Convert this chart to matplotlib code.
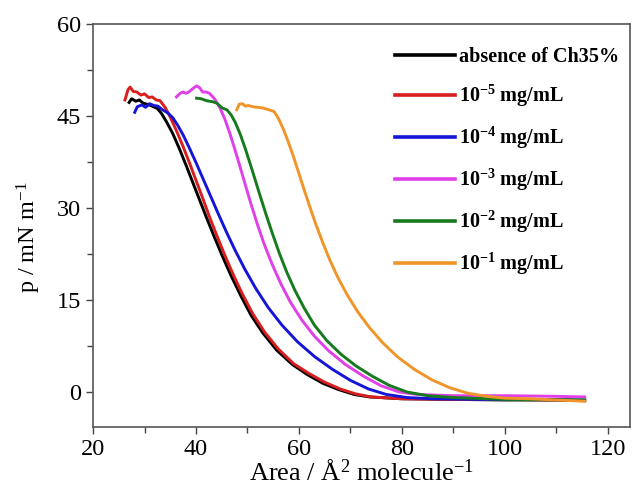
import matplotlib
matplotlib.use('Agg')
import matplotlib.pyplot as plt
from matplotlib.ticker import MultipleLocator

plt.rcParams['font.family'] = 'Liberation Serif'
plt.rcParams['mathtext.fontset'] = 'custom'
plt.rcParams['mathtext.rm'] = 'Liberation Serif'
plt.rcParams['mathtext.it'] = 'Liberation Serif:italic'
plt.rcParams['mathtext.bf'] = 'Liberation Serif:bold'

# surface pressure isotherms
area_black = [27.0, 27.5, 28.3, 29.0, 29.7, 30.5, 31.5, 32.5, 33.3, 34.3, 35.5, 36.8, 38.1,
              39.4, 40.7, 42.1, 43.6, 45.2, 46.9, 48.7, 50.7, 53.0, 55.7, 58.7, 61.7, 64.7,
              67.7, 70.7, 73.7, 80, 90, 100, 110, 115.5]
p_black = [47.2, 47.8, 47.4, 47.6, 47.1, 46.9, 46.6, 46.2, 45.4, 44.0, 42.1, 39.6, 36.9,
           34.1, 31.3, 28.3, 25.2, 22.0, 18.8, 15.7, 12.5, 9.6, 6.8, 4.5, 2.8, 1.4,
           0.4, -0.4, -0.8, -1.1, -1.2, -1.3, -1.3, -1.4]

area_red = [26.2, 26.8, 27.2, 27.8, 28.5, 29.3, 30.0, 30.8, 31.5, 32.3, 33.0, 34.0, 35.0,
            36.2, 37.5, 38.8, 40.0, 41.3, 42.6, 44.0, 45.5, 47.2, 49.0, 51.0, 53.3, 56.0,
            59.0, 62.0, 65.0, 68.0, 71.0, 74.0, 80, 90, 100, 110, 115.5]
p_red = [47.6, 49.3, 49.7, 49.0, 48.9, 48.4, 48.6, 48.0, 48.1, 47.6, 47.5, 46.4, 44.8,
         42.6, 40.0, 37.2, 34.5, 31.6, 28.6, 25.6, 22.5, 19.2, 16.0, 12.8, 9.8, 7.0,
         4.6, 3.0, 1.6, 0.5, -0.3, -0.8, -1.1, -1.2, -1.2, -1.3, -1.4]

area_blue = [28.1, 28.6, 29.5, 30.2, 31.0, 31.8, 32.6, 33.5, 34.5, 35.5, 36.5, 37.5, 38.7,
             40.0, 41.4, 42.8, 44.3, 45.9, 47.6, 49.5, 51.6, 54.0, 56.7, 59.7, 63.0, 66.5,
             70.0, 73.5, 77.0, 81.0, 86, 95, 105, 115.5]
p_blue = [45.6, 46.5, 46.8, 46.4, 47.0, 46.7, 46.6, 46.0, 45.5, 44.7, 43.4, 41.9, 39.8,
          37.4, 34.7, 32.0, 29.1, 26.1, 23.1, 20.0, 16.9, 13.8, 10.9, 8.2, 5.8, 3.7,
          1.9, 0.5, -0.4, -0.9, -1.1, -1.2, -1.2, -1.3]

area_mag = [36.2, 36.8, 37.4, 38.0, 38.6, 39.3, 40.1, 40.7, 41.3, 42.0, 42.6, 43.6, 44.6,
            45.6, 46.6, 47.6, 48.6, 49.6, 50.7, 51.9, 53.2, 54.7, 56.4, 58.3, 60.5, 63.0,
            65.8, 69.0, 72.5, 76.0, 79.5, 83, 90, 100, 110, 115.5]
p_mag = [48.1, 48.6, 48.9, 48.7, 48.9, 49.4, 49.9, 49.6, 48.9, 48.9, 48.7, 47.8, 46.4,
         44.5, 42.1, 39.4, 36.6, 33.7, 30.6, 27.4, 24.2, 21.0, 17.8, 14.7, 11.8, 9.1,
         6.7, 4.5, 2.6, 1.0, 0.0, -0.4, -0.6, -0.6, -0.7, -0.8]

area_green = [40.1, 41.0, 42.0, 42.6, 43.3, 44.0, 45.1, 46.0, 46.8, 47.6, 48.6, 49.6, 50.6,
              51.6, 52.6, 53.7, 54.9, 56.2, 57.6, 59.2, 61.0, 63.0, 65.4, 68.1, 71.0, 74.2,
              77.5, 81.0, 85, 90, 100, 115.5]
p_green = [47.9, 47.8, 47.5, 47.4, 47.3, 47.1, 46.3, 46.0, 45.2, 44.0, 42.0, 39.6, 37.0,
           34.3, 31.6, 28.7, 25.7, 22.6, 19.6, 16.6, 13.7, 10.9, 8.4, 6.2, 4.3, 2.6,
           1.1, 0.0, -0.6, -0.9, -1.2, -1.3]

area_orange = [47.9, 48.4, 49.0, 49.6, 50.2, 51.0, 52.0, 53.0, 54.2, 55.2, 56.0, 57.0, 58.0,
               59.0, 60.0, 61.0, 62.1, 63.3, 64.6, 66.0, 67.6, 69.4, 71.4, 73.7, 76.3, 79.2,
               82.4, 85.8, 89.3, 92.8, 96.5, 100, 105, 110, 115.5]
p_orange = [46.0, 46.9, 47.0, 46.6, 46.7, 46.5, 46.4, 46.3, 46.0, 45.7, 44.6, 42.8, 40.6,
            38.2, 35.6, 33.0, 30.2, 27.3, 24.4, 21.5, 18.6, 15.8, 13.1, 10.5, 8.0, 5.7,
            3.7, 2.0, 0.7, -0.2, -0.7, -1.0, -1.1, -1.3, -1.5]

labels = ['absence of Ch35%',
          r'10$^{\mathbf{-5}}$ mg/mL',
          r'10$^{\mathbf{-4}}$ mg/mL',
          r'10$^{\mathbf{-3}}$ mg/mL',
          r'10$^{\mathbf{-2}}$ mg/mL',
          r'10$^{\mathbf{-1}}$ mg/mL']
colors = ['black', '#d81e1e', '#1515d8', '#e040e8', '#167a1e', '#f0952a']

fig = plt.figure(figsize=(6.33, 4.88), dpi=100)
ax = fig.add_axes([0.147, 0.125, 0.849, 0.826])

series = [(area_black, p_black), (area_red, p_red), (area_blue, p_blue),
          (area_mag, p_mag), (area_green, p_green), (area_orange, p_orange)]
for (a, p), c, lab in zip(series, colors, labels):
    ax.plot(a, p, color=c, lw=2.1, label=lab, solid_joinstyle='round')

ax.set_xlim(20, 124.4)
ax.set_ylim(-5.7, 60)
ax.xaxis.set_major_locator(MultipleLocator(20))
ax.xaxis.set_minor_locator(MultipleLocator(10))
ax.yaxis.set_major_locator(MultipleLocator(15))
ax.yaxis.set_minor_locator(MultipleLocator(7.5))
ax.tick_params(which='both', direction='out', top=False, right=False,
               labelsize=17.5, width=1.0, color='#444444')
ax.tick_params(which='major', length=5)
ax.tick_params(which='minor', length=4)
for s in ax.spines.values():
    s.set_color('#555555')
    s.set_linewidth(1.2)

ax.set_xlabel(r'Area / Å$^2$ molecule$^{-1}$', fontsize=19, labelpad=0)
ax.set_ylabel(r'p / mN m$^{-1}$', fontsize=17.5)
ax.yaxis.set_label_coords(-0.093, 0.47)

leg = ax.legend(loc='upper right', bbox_to_anchor=(1.001, 0.973), frameon=False,
                prop={'family': 'Liberation Serif', 'weight': 'bold', 'size': 14.5},
                handlelength=2.95, handletextpad=0.2, labelspacing=0.785,
                borderaxespad=0.2)
for line in leg.get_lines():
    line.set_linewidth(2.6)

fig.savefig('out.png', dpi=100)
